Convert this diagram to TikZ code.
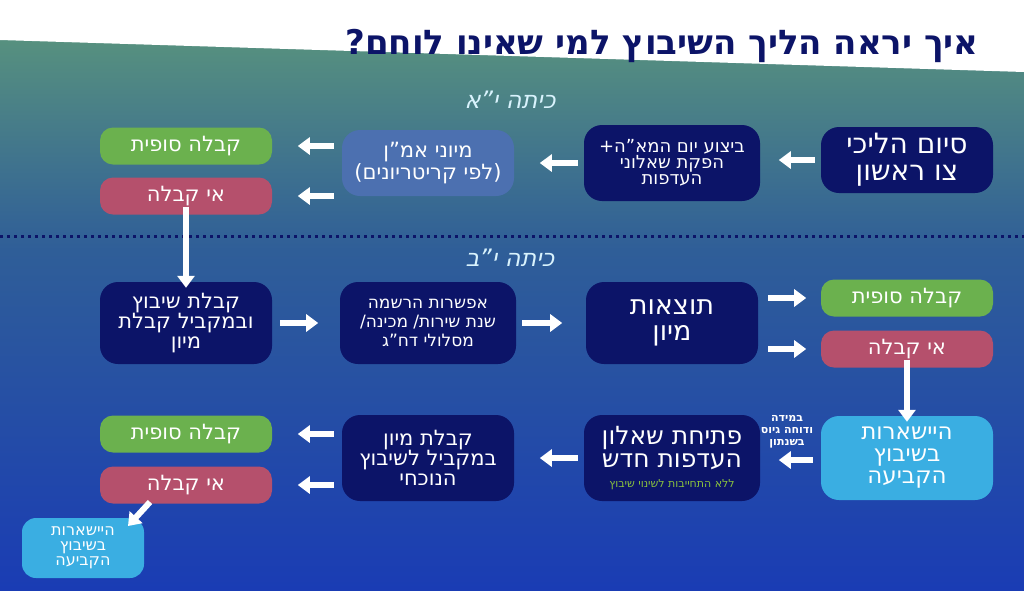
\documentclass[tikz,border=0pt]{standalone}
\usepackage{fontspec}
\setmainfont{DejaVu Sans}
\usetikzlibrary{arrows.meta}
\TeXXeTstate=1
\newcommand{\hb}[1]{\beginR #1\endR}
\definecolor{navy}{HTML}{0C1468}
\definecolor{gtop}{HTML}{5E9A7A}
\definecolor{bbot}{HTML}{1A3CB4}
\definecolor{mid}{HTML}{2F5E98}
\definecolor{okg}{HTML}{6BB14E}
\definecolor{nor}{HTML}{B5506C}
\definecolor{lbl}{HTML}{3AAEE2}
\definecolor{amn}{HTML}{4C70B0}
\begin{document}
\begin{tikzpicture}[x=1pt,y=-1pt,
 box/.style={rounded corners=18pt,draw=none,text=white,align=center,font=\fontsize{21}{20}\selectfont,inner sep=2pt},
 nv/.style={box,fill=navy},
 small/.style={rounded corners=13pt,text=white,minimum width=172pt,minimum height=37pt,font=\fontsize{21}{21}\selectfont},
 ok/.style={small,fill=okg},
 no/.style={small,fill=nor},
 ar/.style={draw=white,line width=6pt,-{Triangle[width=17pt,length=12pt]}}]
\useasboundingbox (0,0) rectangle (1024,590);
\shade[top color=gtop,bottom color=mid] (0,0) rectangle (1024,250);
\shade[top color=mid,bottom color=bbot] (0,250) rectangle (1024,590);
\fill[white] (0,0) -- (1024,0) -- (1024,72) -- (0,40) -- cycle;
\node[font=\bfseries\fontsize{34}{34}\selectfont,text=navy] (t) at (662,46) {\hb{איך יראה הליך השיבוץ למי שאינו לוחם?}};
\draw[navy,line width=3pt,dash pattern=on 3pt off 4pt] (0,236) -- (1024,236);
\node[font=\itshape\fontsize{24}{24}\selectfont,text=white!85!cyan] (ya) at (510,100) {\hb{כיתה י"א}};
\node[font=\itshape\fontsize{24}{24}\selectfont,text=white!85!cyan] (yb) at (510,258) {\hb{כיתה י"ב}};
% row 1
\node[nv,minimum width=172pt,minimum height=66pt,font=\fontsize{28}{27}\selectfont] (a1) at (907,160) {\hb{סיום הליכי}\\\hb{צו ראשון}};
\node[nv,minimum width=176pt,minimum height=76pt,font=\fontsize{18}{16}\selectfont] (a2) at (672,163) {\hb{ביצוע יום המא"ה+}\\\hb{הפקת שאלוני}\\\hb{העדפות}};
\node[box,fill=amn,minimum width=172pt,minimum height=66pt] (a3) at (428,163) {\hb{מיוני אמ"ן}\\\hb{(לפי קריטריונים)}};
\node[ok] (a4) at (186,146) {\hb{קבלה סופית}};
\node[no] (a5) at (186,196) {\hb{אי קבלה}};
% row 2
\node[nv,minimum width=172pt,minimum height=82pt] (b1) at (186,323) {\hb{קבלת שיבוץ}\\\hb{ובמקביל קבלת}\\\hb{מיון}};
\node[nv,minimum width=176pt,minimum height=82pt,font=\fontsize{17}{19}\selectfont] (b2) at (428,323) {\hb{אפשרות הרשמה}\\\hb{שנת שירות/ מכינה/}\\\hb{מסלולי דח"ג}};
\node[nv,minimum width=172pt,minimum height=82pt,font=\fontsize{27}{26}\selectfont] (b3) at (672,323) {\hb{תוצאות}\\\hb{מיון}};
\node[ok] (b4) at (907,298) {\hb{קבלה סופית}};
\node[no] (b5) at (907,349) {\hb{אי קבלה}};
% row 3
\node[box,fill=lbl,minimum width=172pt,minimum height=84pt,font=\fontsize{23}{22}\selectfont] (c1) at (907,458) {\hb{היישארות}\\\hb{בשיבוץ}\\\hb{הקביעה}};
\node[nv,minimum width=176pt,minimum height=86pt,font=\fontsize{25}{23}\selectfont] (c2) at (672,458) {\hb{פתיחת שאלון}\\\hb{העדפות חדש}\\[-3pt]{\color{okg!80!yellow}\fontsize{11}{11}\selectfont\hb{ללא התחייבות לשינוי שיבוץ}}};
\node[nv,minimum width=172pt,minimum height=86pt] (c3) at (428,458) {\hb{קבלת מיון}\\\hb{במקביל לשיבוץ}\\\hb{הנוכחי}};
\node[ok] (c4) at (186,434) {\hb{קבלה סופית}};
\node[no] (c5) at (186,485) {\hb{אי קבלה}};
\node[box,fill=lbl,rounded corners=14pt,minimum width=122pt,minimum height=60pt,font=\fontsize{16}{15}\selectfont] (c6) at (83,548) {\hb{היישארות}\\\hb{בשיבוץ}\\\hb{הקביעה}};
\node[text=white,align=center,font=\bfseries\fontsize{11}{12}\selectfont] (nt) at (787,432) {\hb{במידה}\\\hb{ודוחה גיוס}\\\hb{בשנתון}};
% arrows
\draw[ar] (a1.west)++(-6,0) -- ++(-36,0);
\draw[ar] (a2.west)++(-6,0) -- ++(-38,0);
\draw[ar] ([xshift=-8pt]a3.west |- a4) -- ++(-36,0);
\draw[ar] ([xshift=-8pt]a3.west |- a5) -- ++(-36,0);
\draw[ar] ([yshift=8pt]a5.south) -- ([yshift=-6pt]b1.north);
\draw[ar] ([xshift=8pt]b1.east) -- ++(38,0);
\draw[ar] ([xshift=6pt]b2.east) -- ++(40,0);
\draw[ar] ([xshift=10pt]b3.east |- b4) -- ++(38,0);
\draw[ar] ([xshift=10pt]b3.east |- b5) -- ++(38,0);
\draw[ar] ([yshift=8pt]b5.south) -- ([yshift=-6pt]c1.north);
\draw[ar] ([xshift=-8pt]c1.west |- 0,460) -- ++(-34,0);
\draw[ar] ([xshift=-6pt]c2.west) -- ++(-38,0);
\draw[ar] ([xshift=-8pt]c3.west |- c4) -- ++(-36,0);
\draw[ar] ([xshift=-8pt]c3.west |- c5) -- ++(-36,0);
\draw[ar] (150,502) -- (128,526);
\end{tikzpicture}
\end{document}
